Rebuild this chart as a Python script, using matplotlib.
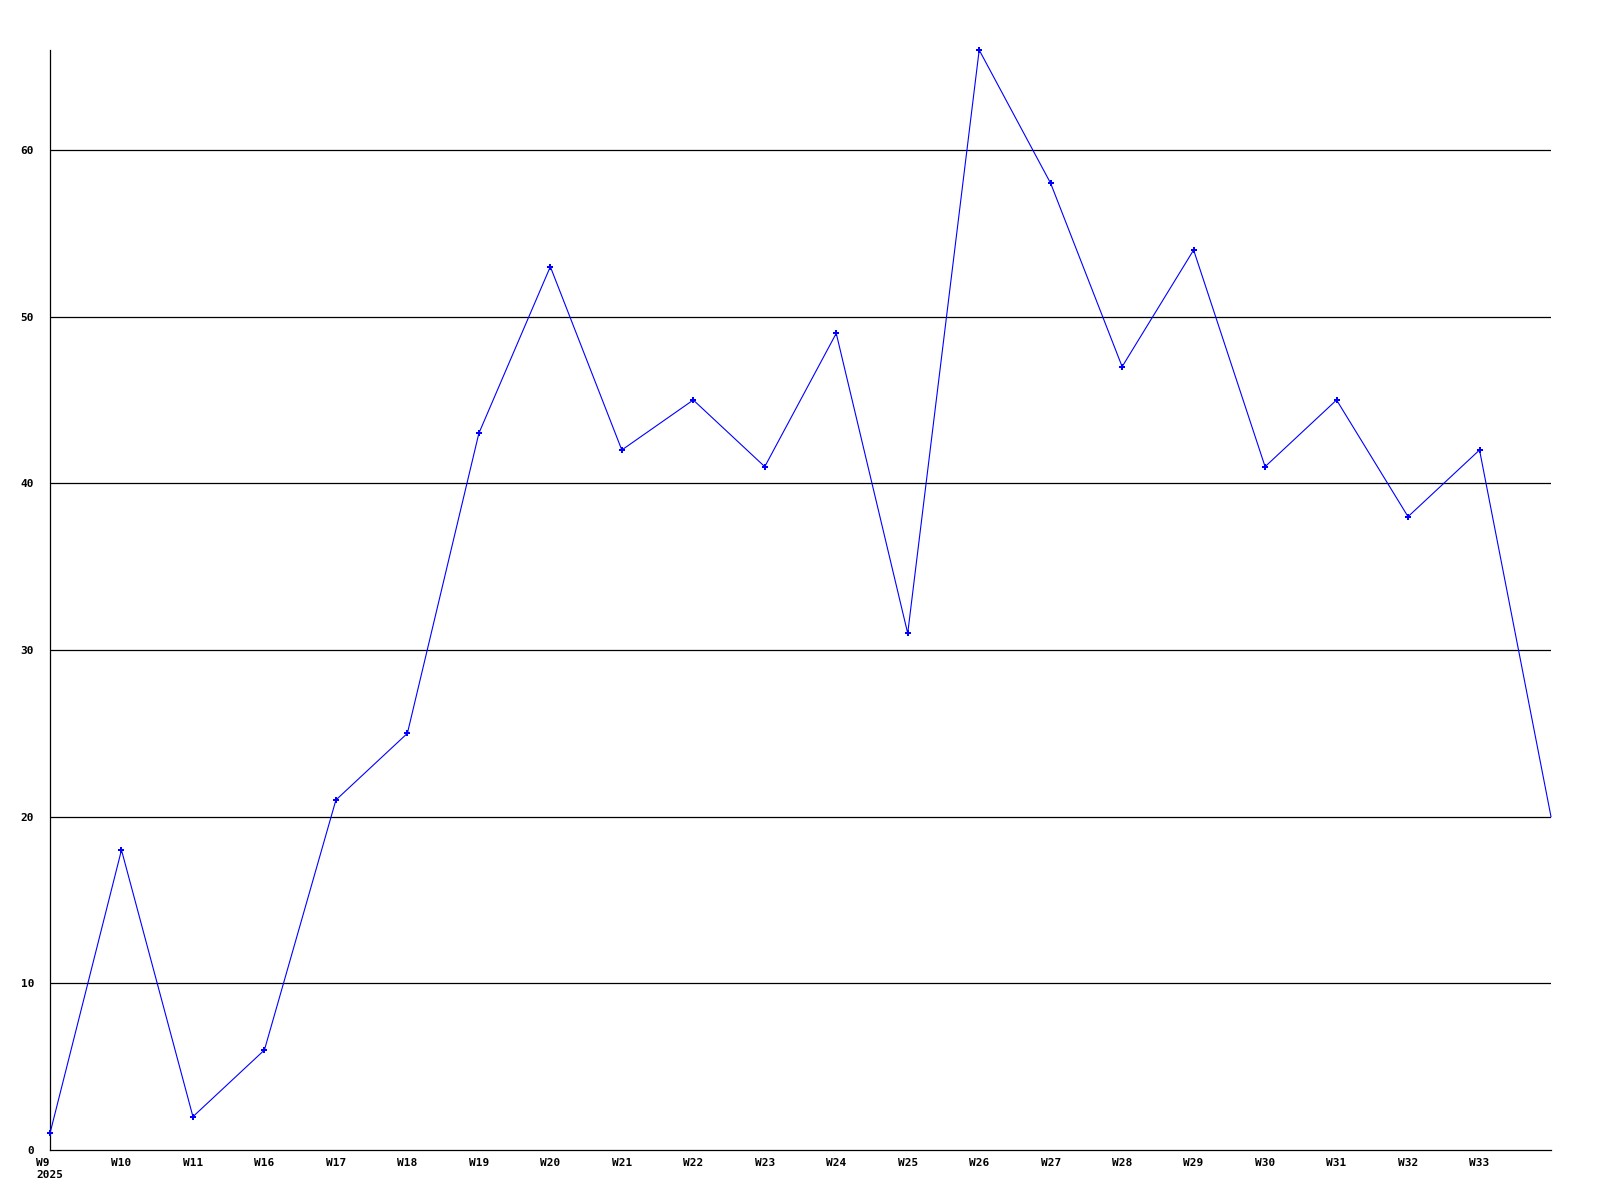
"""Weekly counts line chart, 2025 (W9 .. W33)."""

import matplotlib
matplotlib.use('Agg')
import matplotlib.pyplot as plt

WEEKS = ['W9\n2025', 'W10', 'W11', 'W16', 'W17', 'W18', 'W19', 'W20', 'W21',
         'W22', 'W23', 'W24', 'W25', 'W26', 'W27', 'W28', 'W29', 'W30',
         'W31', 'W32', 'W33', '']
VALUES = [1, 18, 2, 6, 21, 25, 43, 53, 42, 45, 41, 49, 31, 66, 58, 47, 54,
          41, 45, 38, 42, 20]
Y_TICKS = [0, 10, 20, 30, 40, 50, 60]

plt.rcParams['font.family'] = 'DejaVu Sans Mono'
plt.rcParams['font.weight'] = 'bold'

fig = plt.figure(figsize=(16, 12), dpi=100)
ax = fig.add_axes((50 / 1600, 50 / 1200, 1501 / 1600, 1100 / 1200))

xs = list(range(len(VALUES)))
# last point (open week) is drawn without a marker
ax.plot(xs, VALUES, color='#0000ff', linewidth=0.8, marker='P',
        markersize=4, markeredgewidth=0, markevery=xs[:-1],
        clip_on=False, zorder=3)

ax.set_xlim(0, len(VALUES) - 1)
ax.set_ylim(0, max(VALUES))

# Horizontal grid lines only
for y in Y_TICKS[1:]:
    ax.axhline(y, color='black', linewidth=0.9, zorder=1)

ax.set_yticks(Y_TICKS)
ax.set_yticklabels([str(t) for t in Y_TICKS], fontsize=8, fontweight='bold')
ax.set_xticks(xs)
ax.set_xticklabels(WEEKS, fontsize=8, fontweight='bold',
                   multialignment='left', linespacing=1.35)
ax.tick_params(axis='both', length=0)
ax.tick_params(axis='y', pad=11.5)
ax.tick_params(axis='x', pad=5.5)

for side in ('top', 'right'):
    ax.spines[side].set_visible(False)
for side in ('left', 'bottom'):
    ax.spines[side].set_color('black')
    ax.spines[side].set_linewidth(0.9)

fig.savefig('out.png', dpi=100, facecolor='white')
